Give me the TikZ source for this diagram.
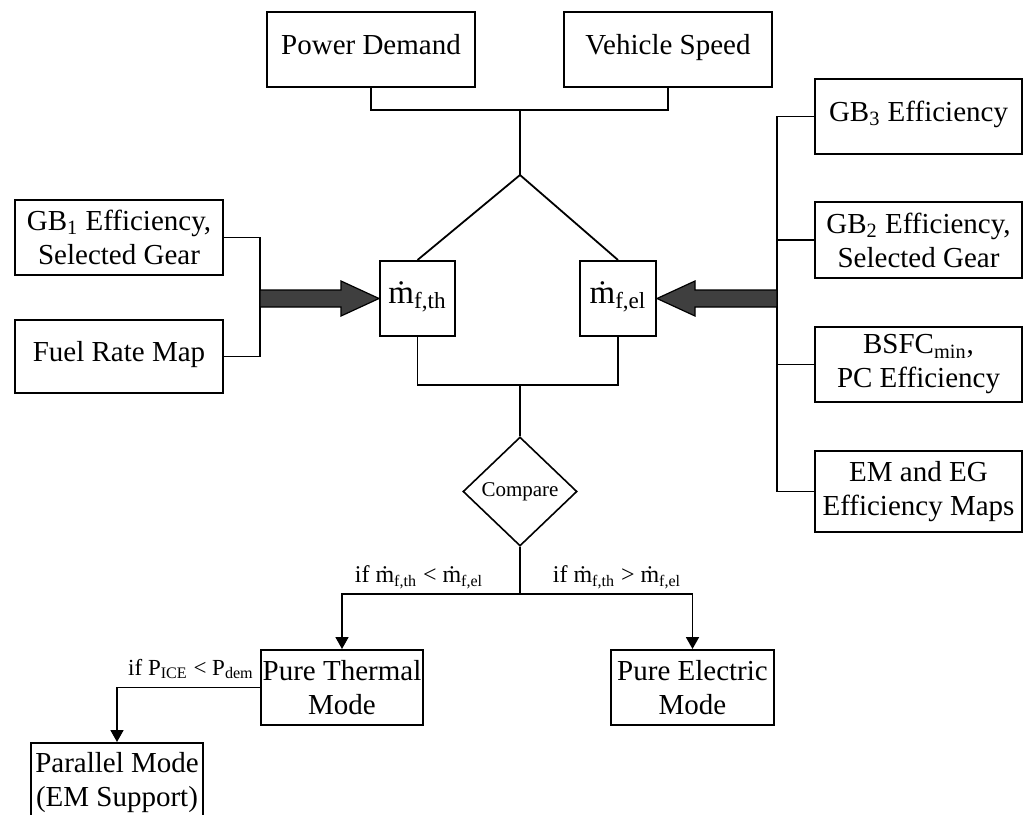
\documentclass[tikz,border=0pt]{standalone}
\usepackage{fontspec}
\setmainfont{Liberation Serif}
\usetikzlibrary{shapes.geometric,arrows.meta,calc}
\definecolor{arrowgray}{HTML}{3F3F3F}
\newcommand{\mdot}{ṁ}
\newcommand{\mainsz}{\fontsize{14.5}{17}\selectfont}
\newcommand{\bigsz}{\fontsize{16.5}{19}\selectfont}
\newcommand{\lblsz}{\fontsize{12}{14}\selectfont}
\newcommand{\cmpsz}{\fontsize{10.5}{12}\selectfont}
\tikzset{
  box/.style={draw, line width=1pt, align=center, inner sep=1pt, font=\mainsz,
    minimum width=104pt, minimum height=37.5pt},
  one/.style={text height=0.7em, text depth=0.22em},
  conn/.style={line width=0.9pt},
  modearrow/.style={line width=0.9pt, -{Triangle[width=6.5pt,length=6pt]}},
  lbl/.style={font=\lblsz, inner sep=0pt},
  bigarrow/.style={draw=black, line width=0.6pt, fill=arrowgray},
}
\begin{document}
\begin{tikzpicture}[x=0.5pt,y=-0.5pt]
\useasboundingbox (0,0) rectangle (1027,814);

% top inputs
\node[box, one] (pd) at (371,49.5) {Power Demand};
\node[box, one] (vs) at (668,49.5) {Vehicle Speed};
\coordinate (tj) at (520,110);
\coordinate (apex) at (520,175);

% fuel rate nodes
\node[box, one, font=\bigsz, minimum width=37.5pt] (mth) at (417.5,298.5) {\mdot\textsubscript{f,th}};
\node[box, one, font=\bigsz, minimum width=38pt] (mfel) at (618,298.5) {\mdot\textsubscript{f,el}};

% left inputs
\node[box] (gb1) at (119,237.5) {GB\textsubscript{1} Efficiency,\\Selected Gear};
\node[box, one, minimum height=36.5pt] (frm) at (119,356.5) {Fuel Rate Map};
\coordinate (lbr) at (260,298.5);

% right inputs
\node[box, one, minimum width=103.5pt] (gb3) at (918.5,116.5) {GB\textsubscript{3} Efficiency};
\node[box, minimum width=103.5pt, minimum height=38pt] (gb2) at (918.5,240) {GB\textsubscript{2} Efficiency,\\Selected Gear};
\node[box, minimum width=103.5pt] (bsfc) at (918.5,364.5) {BSFC\textsubscript{min},\\PC Efficiency};
\node[box, minimum width=103.5pt, minimum height=40.5pt] (em) at (918.5,491.5) {EM and EG\\Efficiency Maps};
\coordinate (rbr) at (777,298.5);

% compare
\node[draw, diamond, line width=0.8pt, aspect=1, inner sep=0pt,
      minimum width=57pt, minimum height=54.5pt, font=\cmpsz] (cmp) at (520,491.5) {Compare};
\coordinate (bj) at (520,385);
\coordinate (sj) at (520,594);

% modes
\node[box, minimum width=80pt] (pt) at (342,687.5) {Pure Thermal\\Mode};
\node[box, minimum width=81.5pt] (pe) at (692.5,687.5) {Pure Electric\\Mode};
\node[box, minimum width=86pt, minimum height=40pt] (par) at (117,783) {Parallel Mode\\(EM Support)};

% connectors top
\draw[conn] (pd.south) |- (tj) -| (vs.south);
\draw[conn] (tj) -- (apex);
\draw[conn] (apex) -- (mth.north);
\draw[conn] (apex) -- (mfel.north);

% left bracket
\draw[conn] (gb1.east) -| (lbr) |- (frm.east);
% right bracket
\draw[conn] (gb3.west) -| (rbr) |- (em.west);
\draw[conn] (gb2.west) -- (gb2.west -| rbr);
\draw[conn] (bsfc.west) -- (bsfc.west -| rbr);

% big arrows
\draw[bigarrow] ($(lbr)+(0,-8.5)$) -- ($(mth.west)+(-38,-8.5)$) -- ($(mth.west)+(-38,-17.5)$)
  -- (mth.west) -- ($(mth.west)+(-38,17.5)$) -- ($(mth.west)+(-38,8.5)$) -- ($(lbr)+(0,8.5)$) -- cycle;
\draw[bigarrow] ($(rbr)+(0,-8.5)$) -- ($(mfel.east)+(38,-8.5)$) -- ($(mfel.east)+(38,-17.5)$)
  -- (mfel.east) -- ($(mfel.east)+(38,17.5)$) -- ($(mfel.east)+(38,8.5)$) -- ($(rbr)+(0,8.5)$) -- cycle;

% to compare
\draw[conn] (mth.south) |- (bj) -| (mfel.south);
\draw[conn] (bj) -- (cmp.north);
\draw[conn] (cmp.south) -- (sj);
\draw[modearrow] (sj) -| (pt.north);
\draw[modearrow] (sj) -| (pe.north);
\draw[modearrow] (pt.west) -| (par.north);

% labels
\node[lbl] (l1) at (419,577) {if \mdot\textsubscript{f,th} < \mdot\textsubscript{f,el}};
\node[lbl] (l2) at (617,577) {if \mdot\textsubscript{f,th} > \mdot\textsubscript{f,el}};
\node[lbl, font=\fontsize{11.5}{13}\selectfont] (l3) at (191,669) {if P\textsubscript{ICE} < P\textsubscript{dem}};
\end{tikzpicture}
\end{document}
